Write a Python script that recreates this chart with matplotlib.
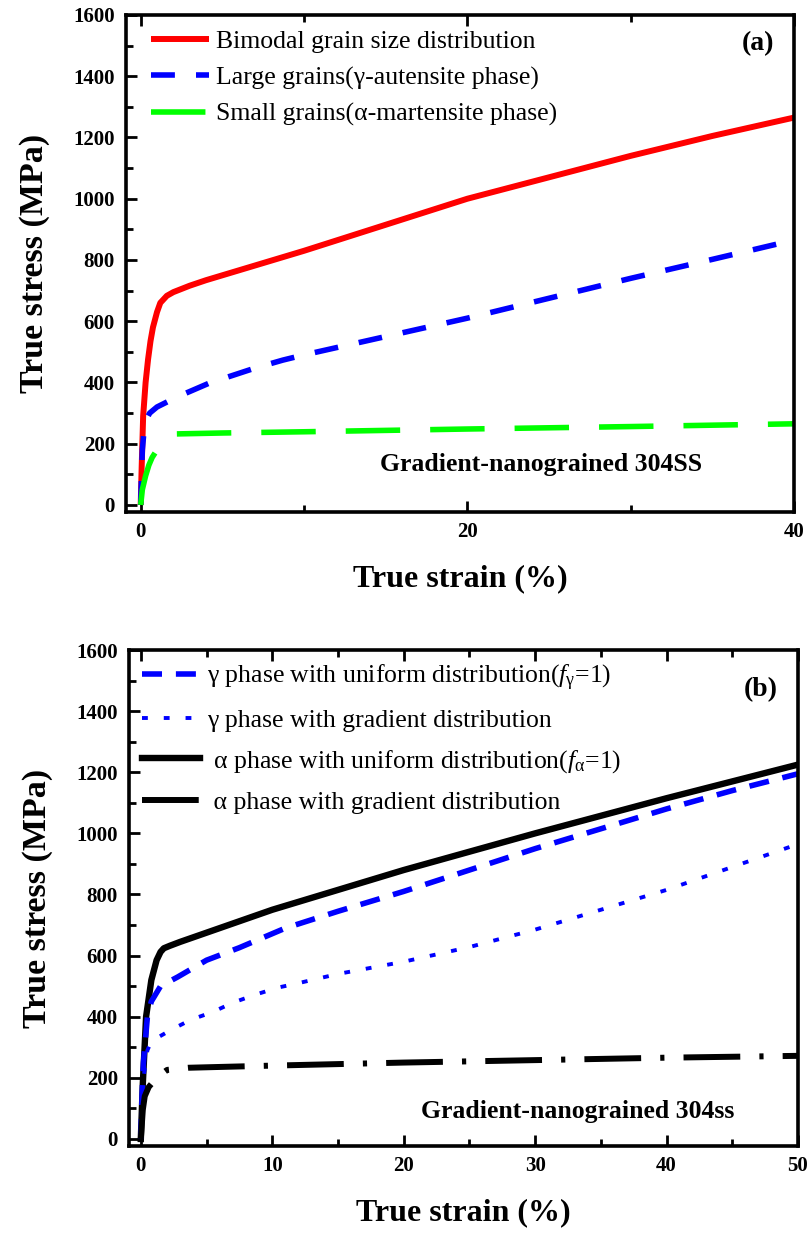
import matplotlib
matplotlib.use("Agg")
import matplotlib.pyplot as plt
from matplotlib.ticker import MultipleLocator

plt.rcParams['font.family'] = ['Liberation Serif', 'DejaVu Serif']
plt.rcParams['mathtext.fontset'] = 'custom'
plt.rcParams['mathtext.rm'] = 'Liberation Serif'
plt.rcParams['mathtext.it'] = 'Liberation Serif:italic'

# ---- panel (a) data: true strain (%) vs true stress (MPa)
bimodal_x = [0, 0.06, 0.15, 0.3, 0.45, 0.6, 0.75, 1.0, 1.2, 1.6, 2.0, 3.0, 4.0, 5, 7.5, 10, 15, 20, 25, 30, 35, 40]
bimodal_y = [0, 125, 290, 400, 475, 535, 580, 630, 660, 683, 695, 716, 734, 750, 790, 830, 915, 1000, 1070, 1140, 1205, 1265]

large_x = [0, 0.05, 0.1, 0.2, 0.35, 0.55, 1.0, 2.2, 4.2, 7, 8.7, 10, 15, 20, 25, 30, 35, 40]
large_y = [0, 100, 180, 240, 280, 300, 320, 352, 398, 447, 473, 490, 550, 610, 675, 740, 802, 865]

small_x = [0, 0.1, 0.3, 0.5, 0.7, 1.0, 1.5, 2.2, 5, 10, 20, 30, 40]
small_y = [0, 50, 95, 130, 155, 180, 215, 232, 235, 239, 248, 256, 265]

# ---- panel (b) data
g_uni_x = [0, 0.1, 0.2, 0.5, 0.8, 1.5, 2.8, 5, 7.5, 11, 15, 20, 25, 30, 35, 40, 45, 50]
g_uni_y = [0, 150, 250, 400, 450, 500, 530, 585, 626, 690, 745, 810, 880, 950, 1015, 1080, 1140, 1195]

g_grad_x = [0, 0.1, 0.2, 0.5, 0.8, 2.3, 3.8, 5.5, 7, 8.7, 10.4, 12, 15, 20, 25, 30, 35, 40, 45, 50]
g_grad_y = [0, 120, 200, 290, 320, 357, 390, 416, 446, 472, 495, 510, 540, 580, 628, 685, 750, 815, 890, 965]

a_uni_x = [0, 0.15, 0.4, 0.8, 1.2, 1.5, 1.75, 2.2, 3, 5, 10, 20, 30, 40, 50]
a_uni_y = [0, 180, 400, 520, 585, 612, 624, 632, 645, 675, 750, 880, 1000, 1115, 1225]

a_grad_x = [0, 0.15, 0.3, 0.6, 1.0, 1.5, 2.0, 3.6, 6.3, 10, 20, 30, 40, 50]
a_grad_y = [0, 95, 140, 170, 190, 210, 226, 233, 236, 240, 250, 258, 266, 272]

W, H = 807, 1237
fig = plt.figure(figsize=(W / 100, H / 100), dpi=100)


def style_axes(ax, xmax, xmajor, xminor):
    ax.set_xlim(-0.9, xmax)
    ax.set_ylim(-23, 1600)
    ax.xaxis.set_major_locator(MultipleLocator(xmajor))
    ax.xaxis.set_minor_locator(MultipleLocator(xminor))
    ax.yaxis.set_major_locator(MultipleLocator(200))
    ax.yaxis.set_minor_locator(MultipleLocator(100))
    ax.tick_params(which='both', direction='in', top=True, right=False, width=2)
    ax.tick_params(which='major', length=8, labelsize=15)
    ax.tick_params(which='minor', length=5)
    ax.tick_params(axis='y', pad=8)
    ax.tick_params(axis='x', pad=7)
    for lab in ax.get_xticklabels() + ax.get_yticklabels():
        lab.set_fontweight('bold')
    for s in ax.spines.values():
        s.set_linewidth(2.6)
    ax.set_xlabel('True strain (%)', fontsize=23, fontweight='bold', labelpad=16)
    ax.set_ylabel('True stress (MPa)', fontsize=24.5, fontweight='bold', labelpad=17)


# ---- panel (a)
ax1 = fig.add_axes([126 / W, 1 - 512 / H, 668 / W, 497 / H])
ax1.plot(bimodal_x, bimodal_y, color='#ff0000', lw=4.3, solid_capstyle='butt',
         label='Bimodal grain size distribution')
ax1.plot(large_x, large_y, color='#0000ff', lw=4, dashes=(4.3, 3.8),
         label='Large grains(γ-autensite phase)')
ax1.plot(small_x, small_y, color='#00ff00', lw=4, dashes=(9.8, 5.4),
         label='Small grains(α-martensite phase)')
style_axes(ax1, 40, 20, 10)
ax1.set_xticks([0, 20, 40])
for lab in ax1.get_xticklabels():
    lab.set_fontweight('bold')
ax1.legend(loc='upper left', bbox_to_anchor=(0.037, 0.97), frameon=False,
           fontsize=18.5, handlelength=2.26, handletextpad=0.3,
           labelspacing=0.52, borderpad=0, borderaxespad=0)
ax1.text(0.97, 0.942, '(a)', transform=ax1.transAxes, ha='right', va='center',
         fontsize=20, fontweight='bold')
ax1.text(0.621, 0.095, 'Gradient-nanograined 304SS', transform=ax1.transAxes,
         ha='center', va='center', fontsize=18.5, fontweight='bold')

# ---- panel (b)
ax2 = fig.add_axes([129 / W, 1 - 1146 / H, 669 / W, 496 / H])
ax2.plot(a_uni_x, a_uni_y, color='black', lw=4.6,
         label=' α phase with uniform distribution($f_{\\mathrm{α}}$=1)')
ax2.plot(g_uni_x, g_uni_y, color='#0000ff', lw=4, dashes=(3.6, 2.5),
         label='γ phase with uniform distribution($f_{\\mathrm{γ}}$=1)')
ax2.plot(g_grad_x, g_grad_y, color='#0000ff', lw=2.8, dashes=(1.5, 4.1),
         label='γ phase with gradient distribution')
ax2.plot(a_grad_x, a_grad_y, color='black', lw=4.3, dashes=(9.5, 3.2, 0.7, 3.2),
         label=' α phase with gradient distribution')
style_axes(ax2, 50, 10, 5)
h, l = ax2.get_legend_handles_labels()
order = [1, 2, 0, 3]
ax2.legend([h[i] for i in order], [l[i] for i in order], loc='upper left',
           bbox_to_anchor=(0.019, 0.974), frameon=False, fontsize=18.5,
           handlelength=2.26, handletextpad=0.3, labelspacing=0.62,
           borderpad=0, borderaxespad=0)
ax2.text(0.97, 0.92, '(b)', transform=ax2.transAxes, ha='right', va='center',
         fontsize=20, fontweight='bold')
ax2.text(0.67, 0.069, 'Gradient-nanograined 304ss', transform=ax2.transAxes,
         ha='center', va='center', fontsize=18.5, fontweight='bold')

fig.savefig('out.png', dpi=100)
